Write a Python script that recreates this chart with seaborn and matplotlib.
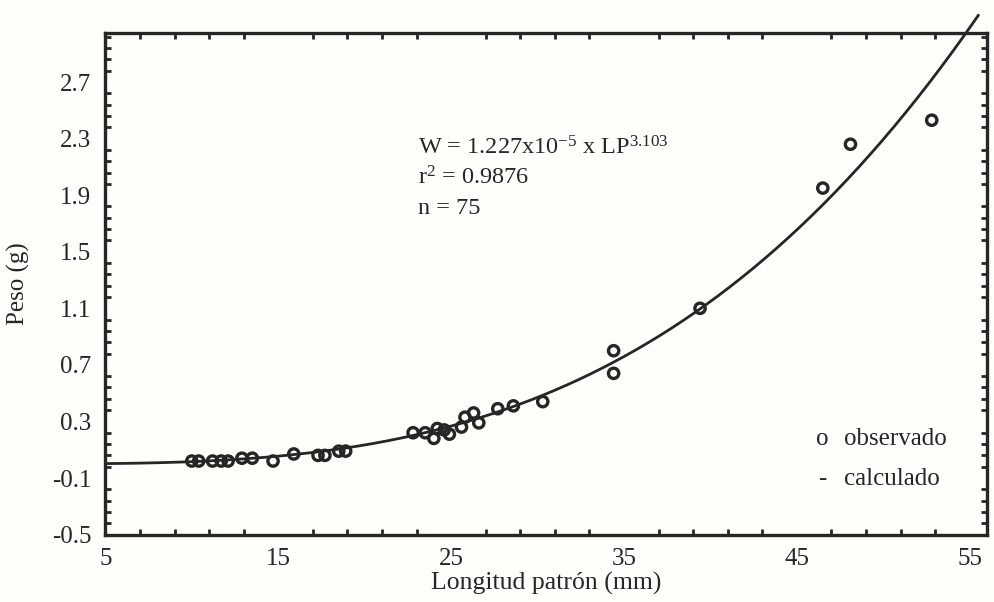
import numpy as np
import pandas as pd
import matplotlib
matplotlib.use("Agg")
import matplotlib.pyplot as plt
import seaborn as sns
from matplotlib.ticker import FixedLocator

# Observed standard length (mm) and weight (g)
longitud = [10.0, 10.4, 11.2, 11.7, 12.1, 12.9, 13.5, 14.7, 15.9, 17.3, 17.7,
            18.5, 18.9, 22.8, 23.5, 24.0, 24.2, 24.6, 24.9, 25.6, 25.8, 26.3,
            26.6, 27.7, 28.6, 30.3, 34.4, 34.4, 39.4, 46.5, 48.1, 52.8]
peso = [0.02, 0.02, 0.02, 0.02, 0.02, 0.04, 0.04, 0.02, 0.07, 0.06, 0.06,
        0.09, 0.09, 0.22, 0.22, 0.18, 0.25, 0.24, 0.21, 0.26, 0.33, 0.36,
        0.29, 0.39, 0.41, 0.44, 0.80, 0.64, 1.10, 1.95, 2.26, 2.43]

# Fitted length-weight relationship W = a * LP^b
coef_a = 1.227e-5
coef_b = 3.103

x_ticks = [5, 15, 25, 35, 45, 55]
y_ticks = [-0.5, -0.1, 0.3, 0.7, 1.1, 1.5, 1.9, 2.3, 2.7]

obs = pd.DataFrame({"LP": longitud, "W": peso})
lp_fit = np.linspace(5, 55.5, 300)
fit = pd.DataFrame({"LP": lp_fit, "W": coef_a * lp_fit ** coef_b})

sns.set_theme(style="white")
plt.rcParams["font.family"] = ["Liberation Serif", "DejaVu Serif"]
plt.rcParams["mathtext.fontset"] = "custom"
plt.rcParams["mathtext.rm"] = "Liberation Serif"
plt.rcParams["mathtext.it"] = "Liberation Serif"

ink = "#262626"
paper = "#fefefb"
fs = 18

fig = plt.figure(figsize=(9.94, 6.02), dpi=100, facecolor=paper)
ax = fig.add_axes([0.106, 0.112, 0.887, 0.834], facecolor=paper)

sns.lineplot(data=fit, x="LP", y="W", ax=ax, color=ink, linewidth=2.0,
             sort=False)
for ln in ax.lines:
    ln.set_clip_on(False)

sns.scatterplot(data=obs, x="LP", y="W", ax=ax, marker="o", s=55,
                facecolor="none", edgecolor=ink, linewidth=2.4, zorder=3)

ax.set_xlim(5, 56)
ax.set_ylim(-0.5, 3.05)

ax.xaxis.set_major_locator(FixedLocator(x_ticks))
ax.yaxis.set_major_locator(FixedLocator(y_ticks))
ax.xaxis.set_minor_locator(FixedLocator(np.arange(5, 56.01, 2)))
ax.yaxis.set_minor_locator(FixedLocator(np.arange(-0.5, 3.05, 0.08)))
ax.tick_params(axis="both", which="both", direction="in", top=True,
               right=True, bottom=True, left=True, color=ink, width=2.0)
ax.tick_params(which="major", length=0, labelsize=fs, labelcolor=ink, pad=10)
ax.tick_params(which="minor", length=4)
ax.set_xticklabels([str(v) for v in x_ticks])
ax.set_yticklabels([f"{v:.1f}" for v in y_ticks])

for side in ax.spines.values():
    side.set_color(ink)
    side.set_linewidth(2.4)

ax.set_xlabel("Longitud patrón (mm)", fontsize=18.5, color=ink, labelpad=1)
ax.set_ylabel("Peso (g)", fontsize=18, color=ink, labelpad=16)

ax.text(0.355, 0.758, r"W = 1.227x10$^{-5}$ x LP$^{3.103}$",
        transform=ax.transAxes, fontsize=17.5, color=ink)
ax.text(0.355, 0.697, r"r$^{2}$ = 0.9876", transform=ax.transAxes,
        fontsize=17.5, color=ink)
ax.text(0.355, 0.638, "n = 75", transform=ax.transAxes, fontsize=17.5,
        color=ink)

ax.text(0.806, 0.178, "o", transform=ax.transAxes, fontsize=fs, color=ink)
ax.text(0.838, 0.178, "observado", transform=ax.transAxes, fontsize=fs,
        color=ink)
ax.text(0.808, 0.098, "-", transform=ax.transAxes, fontsize=fs, color=ink)
ax.text(0.838, 0.098, "calculado", transform=ax.transAxes, fontsize=fs,
        color=ink)

fig.savefig("out.png", dpi=100, facecolor=paper)
